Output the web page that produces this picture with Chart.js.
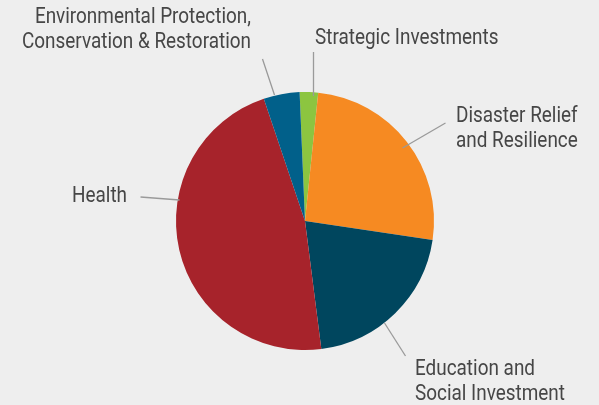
<!DOCTYPE html>
<html>
<head>
<meta charset="utf-8">
<script src="https://cdn.jsdelivr.net/npm/chart.js@4.4.0/dist/chart.umd.min.js"></script>
<style>
  html, body { margin: 0; padding: 0; background: #eeeeee; }
  #wrap { width: 599px; height: 405px; position: relative; }
</style>
</head>
<body>
<div id="wrap"><canvas id="pieChart" width="599" height="405"></canvas></div>
<script>
// Dados do gráfico (percentuais)
const categories = [
  'Strategic Investments',
  'Disaster Relief and Resilience',
  'Education and Social Investment',
  'Health',
  'Environmental Protection, Conservation & Restoration'
];
const values = [2.3, 25.7, 20.6, 46.8, 4.5];
const colors = ['#8cc540', '#f68a22', '#00465e', '#a7232b', '#01608a'];

// Rótulos em várias linhas, na mesma ordem das categorias
const labelLines = [
  ['Strategic Investments'],
  ['Disaster Relief', 'and Resilience'],
  ['Education and', 'Social Investment'],
  ['Health'],
  ['Environmental Protection,', 'Conservation & Restoration']
];

// Posição dos rótulos e linhas-guia, relativa ao centro do gráfico (px)
const labelLayout = [
  { align: 'left',  x: 10,   y: -177, line: [[8.5, -125], [8.5, -169]] },
  { align: 'left',  x: 151,  y: -99,  line: [[97.5, -73], [140.5, -98]] },
  { align: 'left',  x: 110,  y: 154,  line: [[79.5, 102], [100.5, 135]] },
  { align: 'right', x: -178, y: -19,  line: [[-125.5, -21], [-164.5, -24]] },
  { align: 'right', x: -54,  y: -198, line: [[-30.5, -126], [-42.5, -162]] }
];

// Plugin para desenhar as linhas-guia e os textos
const calloutPlugin = {
  id: 'callouts',
  afterDatasetsDraw(chart) {
    const ctx = chart.ctx;
    const arc = chart.getDatasetMeta(0).data[0];
    const cx = arc.x, cy = arc.y;
    ctx.save();
    ctx.strokeStyle = '#9a9a9a';
    ctx.lineWidth = 1.3;
    labelLayout.forEach((l, i) => {
      ctx.beginPath();
      ctx.moveTo(cx + l.line[0][0], cy + l.line[0][1]);
      ctx.lineTo(cx + l.line[1][0], cy + l.line[1][1]);
      ctx.stroke();
    });
    ctx.fillStyle = '#464646';
    ctx.font = '22px Roboto';
    ctx.textBaseline = 'alphabetic';
    const sx = 0.86; // texto condensado
    labelLayout.forEach((l, i) => {
      labelLines[i].forEach((txt, j) => {
        const w = ctx.measureText(txt).width * sx;
        const x = cx + l.x;
        const y = cy + l.y + j * 25;
        const left = l.align === 'right' ? x - w : x;
        ctx.save();
        ctx.translate(left, y);
        ctx.scale(sx, 1);
        ctx.fillText(txt, 0, 0);
        ctx.restore();
      });
    });
    ctx.restore();
  }
};

new Chart(document.getElementById('pieChart').getContext('2d'), {
  type: 'pie',
  data: {
    labels: categories,
    datasets: [{
      data: values,
      backgroundColor: colors,
      borderWidth: 0
    }]
  },
  options: {
    responsive: false,
    animation: false,
    rotation: -2.4,
    layout: { padding: { top: 92, bottom: 55, left: 176, right: 165 } },
    plugins: {
      legend: { display: false },
      tooltip: { enabled: false }
    }
  },
  plugins: [calloutPlugin]
});
</script>
</body>
</html>
